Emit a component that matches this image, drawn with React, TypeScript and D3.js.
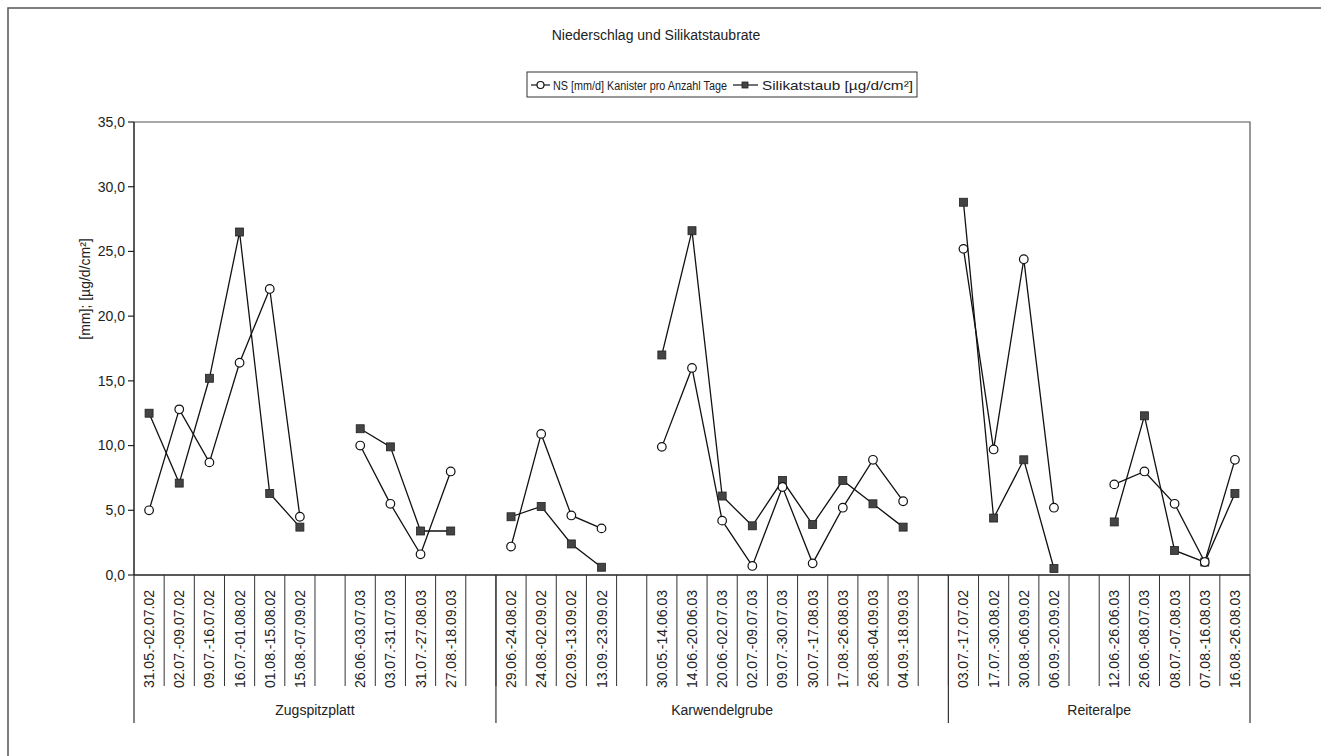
import React from "react";
import * as d3 from "d3";

const groups = ["Zugspitzplatt", "Karwendelgrube", "Reiteralpe"];

const zugLabels = ["31.05.-02.07.02", "02.07.-09.07.02", "09.07.-16.07.02", "16.07.-01.08.02", "01.08.-15.08.02", "15.08.-07.09.02", "", "26.06.-03.07.03", "03.07.-31.07.03", "31.07.-27.08.03", "27.08.-18.09.03", ""];
const zugNS = [5.0, 12.8, 8.7, 16.4, 22.1, 4.5, null, 10.0, 5.5, 1.6, 8.0, null];
const zugSi = [12.5, 7.1, 15.2, 26.5, 6.3, 3.7, null, 11.3, 9.9, 3.4, 3.4, null];

const karLabels = ["29.06.-24.08.02", "24.08.-02.09.02", "02.09.-13.09.02", "13.09.-23.09.02", "", "30.05.-14.06.03", "14.06.-20.06.03", "20.06.-02.07.03", "02.07.-09.07.03", "09.07.-30.07.03", "30.07.-17.08.03", "17.08.-26.08.03", "26.08.-04.09.03", "04.09.-18.09.03", ""];
const karNS = [2.2, 10.9, 4.6, 3.6, null, 9.9, 16.0, 4.2, 0.7, 6.8, 0.9, 5.2, 8.9, 5.7, null];
const karSi = [4.5, 5.3, 2.4, 0.6, null, 17.0, 26.6, 6.1, 3.8, 7.3, 3.9, 7.3, 5.5, 3.7, null];

const reiLabels = ["03.07.-17.07.02", "17.07.-30.08.02", "30.08.-06.09.02", "06.09.-20.09.02", "", "12.06.-26.06.03", "26.06.-08.07.03", "08.07.-07.08.03", "07.08.-16.08.03", "16.08.-26.08.03"];
const reiNS = [25.2, 9.7, 24.4, 5.2, null, 7.0, 8.0, 5.5, 1.0, 8.9];
const reiSi = [28.8, 4.4, 8.9, 0.5, null, 4.1, 12.3, 1.9, 1.0, 6.3];

const yTicks = [0, 5, 10, 15, 20, 25, 30, 35];

const title = "Niederschlag und Silikatstaubrate";
const legendNS = "NS [mm/d] Kanister pro Anzahl Tage";
const legendSi = "Silikatstaub [µg/d/cm²]";
const yTitle = "[mm]; [µg/d/cm²]";

const groupLabels = [zugLabels, karLabels, reiLabels];
const labels = [...zugLabels, ...karLabels, ...reiLabels];
const nsVals = [...zugNS, ...karNS, ...reiNS];
const siVals = [...zugSi, ...karSi, ...reiSi];

const FONT = "'Liberation Sans', Arial, sans-serif";

export default function App() {
  const left = 134, right = 1250, top = 122, bottom = 575;
  const x = d3.scaleBand<number>().domain(labels.map((_, i) => i)).range([left, right]).padding(0);
  const y = d3.scaleLinear().domain([0, 35]).range([bottom, top]);
  const cx = (i: number) => (x(i) as number) + x.bandwidth() / 2;
  const line = d3
    .line<number | null>()
    .defined((d) => d != null)
    .x((_, i) => cx(i))
    .y((d) => y(d as number));

  const bounds: number[] = [0];
  groupLabels.forEach((g) => bounds.push(bounds[bounds.length - 1] + g.length));
  const fmt = (v: number) => v.toFixed(1).replace(".", ",");

  return (
    <svg width={1321} height={756} style={{ position: "absolute", left: 0, top: 0, background: "#fff" }} fontFamily={FONT}>
      <rect x={0} y={0} width={1321} height={756} fill="#fff" />
      <path d="M8,766 L8,8 L1330,8" fill="none" stroke="#555" strokeWidth={1.5} />

      <text x={656} y={40} textAnchor="middle" fontSize={14} fill="#222">{title}</text>

      {/* legend */}
      <rect x={527} y={72} width={390} height={25} fill="#fff" stroke="#333" strokeWidth={1} />
      <line x1={531} x2={550} y1={85} y2={85} stroke="#111" strokeWidth={1.2} />
      <circle cx={540.5} cy={85} r={3.5} fill="#fff" stroke="#111" strokeWidth={1.2} />
      <text x={553} y={89.5} fontSize={12.5} fill="#222" textLength={174} lengthAdjust="spacingAndGlyphs">{legendNS}</text>
      <line x1={733} x2={758} y1={85} y2={85} stroke="#111" strokeWidth={1.2} />
      <rect x={742} y={82} width={6} height={6} fill="#444" stroke="#222" strokeWidth={0.8} />
      <text x={762} y={89.5} fontSize={13} fill="#222" textLength={151} lengthAdjust="spacingAndGlyphs">{legendSi}</text>

      {/* plot frame */}
      <path d={`M${left},${top} L${right},${top} L${right},${bottom}`} fill="none" stroke="#555" strokeWidth={1.2} />
      <line x1={left} x2={right} y1={bottom} y2={bottom} stroke="#222" strokeWidth={1.5} />
      <line x1={left} x2={left} y1={top} y2={bottom} stroke="#222" strokeWidth={1.5} />

      {/* y axis */}
      {yTicks.map((t) => (
        <g key={t}>
          <line x1={left - 6} x2={left} y1={y(t)} y2={y(t)} stroke="#222" strokeWidth={1.2} />
          <text x={left - 9} y={y(t)} dy="0.35em" textAnchor="end" fontSize={14} fill="#222">{fmt(t)}</text>
        </g>
      ))}
      <text transform={`translate(85,289) rotate(-90)`} textAnchor="middle" dominantBaseline="central" fontSize={14} fill="#222">{yTitle}</text>

      {/* category separators */}
      {labels.map((_, i) => (i === 0 ? null : (
        <line key={"s" + i} x1={x(i) as number} x2={x(i) as number} y1={bottom} y2={686} stroke="#333" strokeWidth={1} />
      )))}
      {bounds.map((b, i) => {
        const xx = b === labels.length ? right : (x(b) as number);
        return <line key={"b" + i} x1={xx} x2={xx} y1={bottom} y2={723} stroke="#333" strokeWidth={1.2} />;
      })}
      {labels.map((l, i) => (
        l ? (
          <text key={"l" + i} transform={`translate(${cx(i)},590) rotate(-90)`} textAnchor="end" dominantBaseline="central" fontSize={14} fill="#222">{l}</text>
        ) : null
      ))}
      {groups.map((g, gi) => {
        const x0 = x(bounds[gi]) as number;
        const x1 = bounds[gi + 1] === labels.length ? right : (x(bounds[gi + 1]) as number);
        return <text key={g} x={(x0 + x1) / 2} y={715} textAnchor="middle" fontSize={14} fill="#222">{g}</text>;
      })}

      {/* series */}
      <path d={line(siVals) || ""} fill="none" stroke="#111" strokeWidth={1.3} />
      <path d={line(nsVals) || ""} fill="none" stroke="#111" strokeWidth={1.3} />
      {siVals.map((v, i) => (v == null ? null : (
        <rect key={"q" + i} x={cx(i) - 4} y={y(v) - 4} width={8} height={8} fill="#444" stroke="#222" strokeWidth={0.8} />
      )))}
      {nsVals.map((v, i) => (v == null ? null : (
        <circle key={"c" + i} cx={cx(i)} cy={y(v)} r={4.3} fill="#fff" stroke="#111" strokeWidth={1.2} />
      )))}
    </svg>
  );
}
